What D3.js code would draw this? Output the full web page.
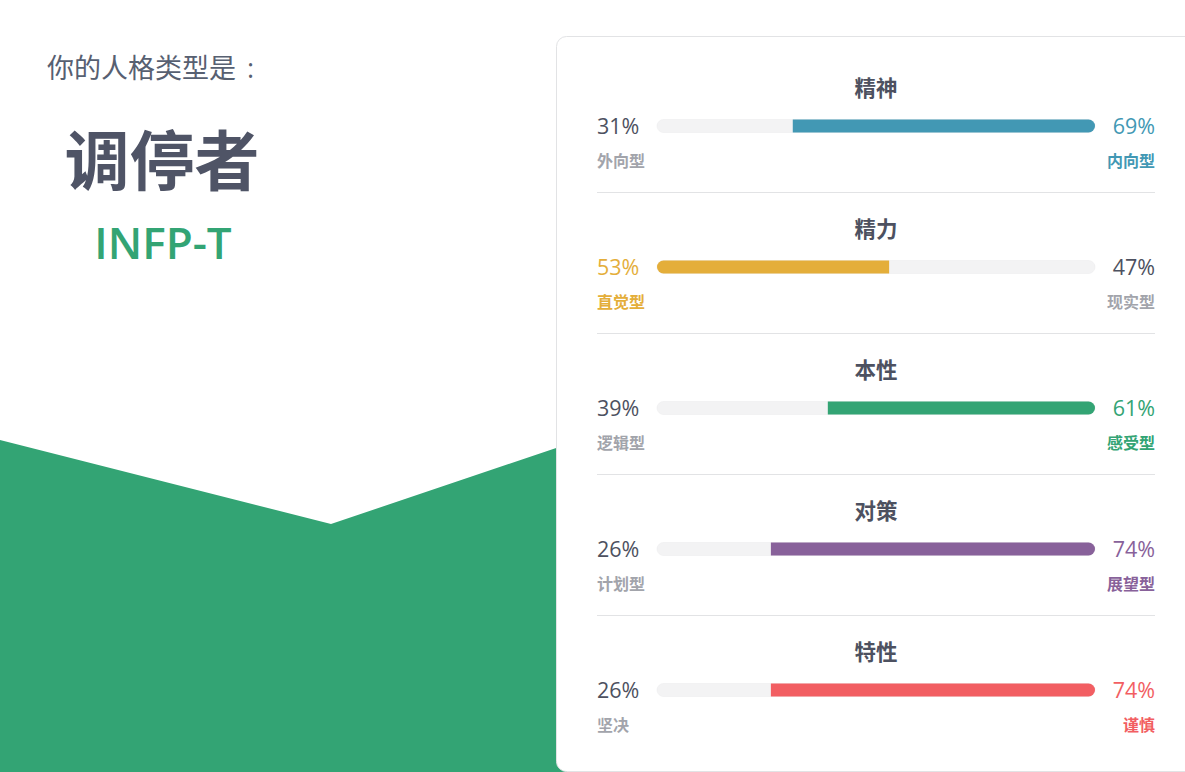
<!DOCTYPE html>
<html>
<head>
<meta charset="utf-8">
<script src="https://cdn.jsdelivr.net/npm/d3@7"></script>
<style>
  html, body { margin: 0; padding: 0; background: #fff; overflow: hidden; }
  text { font-family: "Open Sans", "Noto Sans CJK SC", sans-serif; }
</style>
</head>
<body>
<script>
// Personality data
const dimensions = ["精神", "精力", "本性", "对策", "特性"];
const leftTraits = ["外向型", "直觉型", "逻辑型", "计划型", "坚决"];
const rightTraits = ["内向型", "现实型", "感受型", "展望型", "谨慎"];
const leftPct = [31, 53, 39, 26, 26];
const rightPct = [69, 47, 61, 74, 74];
const traitColors = ["#4298b4", "#e4ae3a", "#33a474", "#88619a", "#f25e62"];

const W = 1185, H = 772;
const dark = "#4d5160", gray = "#a2a4ab";

const svg = d3.select("body").append("svg")
  .attr("width", W)
  .attr("height", H);

// green background shape (tucked under the card's left edge)
svg.append("path")
  .attr("d", "M0,440 L331,524 L568,444 L568," + H + " L0," + H + " Z")
  .attr("fill", "#33a474");

// left heading
const head = svg.append("text")
  .attr("x", 47).attr("y", 78)
  .style("font-size", "27px")
  .style("fill", "#576071")
  .text("你的人格类型是");
head.append("tspan")
  .attr("dx", 11)
  .text(":");

svg.append("text")
  .attr("x", 162).attr("y", 185)
  .attr("text-anchor", "middle")
  .style("font-size", "65px")
  .style("font-weight", "bold")
  .style("fill", "#4f5466")
  .text("调停者");

svg.append("text")
  .attr("x", 163).attr("y", 259)
  .attr("text-anchor", "middle")
  .style("font-size", "44px")
  .style("font-weight", "600")
  .style("fill", "#33a474")
  .text("INFP-T");

// card
svg.append("rect")
  .attr("x", 556.5).attr("y", 36.5)
  .attr("width", 700).attr("height", 735)
  .attr("rx", 10)
  .attr("fill", "#fff")
  .attr("stroke", "#e2e3e5");

// scales
const x = d3.scaleLinear().domain([0, 100]).range([657, 1095]);
const y = d3.scaleBand().domain(dimensions).range([51, 51 + 141 * dimensions.length]);
const barH = 13, r = barH / 2, cy = 75;

// filled bar: rounded on the outer end only
function fillPath(d) {
  const y0 = cy - r, y1 = cy + r;
  if (d.leftWins) {
    const xs = x(0), xe = x(d.lp);
    return `M${xe},${y0} H${xs + r} A${r},${r} 0 0 0 ${xs + r},${y1} H${xe} Z`;
  }
  const xs = x(d.lp), xe = x(100);
  return `M${xs},${y0} H${xe - r} A${r},${r} 0 0 1 ${xe - r},${y1} H${xs} Z`;
}

const rows = dimensions.map((d, i) => ({
  name: d,
  left: leftTraits[i],
  right: rightTraits[i],
  lp: leftPct[i],
  rp: rightPct[i],
  color: traitColors[i],
  leftWins: leftPct[i] > rightPct[i]
}));

const row = svg.selectAll("g.row")
  .data(rows)
  .join("g")
  .attr("class", "row")
  .attr("transform", d => `translate(0,${y(d.name)})`);

row.append("text")
  .attr("x", 876).attr("y", 45)
  .attr("text-anchor", "middle")
  .style("font-size", "21.5px")
  .style("font-weight", "bold")
  .style("fill", dark)
  .text(d => d.name);

// track
row.append("rect")
  .attr("x", x(0)).attr("y", cy - r)
  .attr("width", x(100) - x(0)).attr("height", barH)
  .attr("rx", r)
  .attr("fill", "#f3f3f4")
  .attr("stroke", "#ececee")
  .attr("stroke-width", 0.6);

row.append("path")
  .attr("d", fillPath)
  .attr("fill", d => d.color);

// percentages
row.append("text")
  .attr("x", 597).attr("y", 82.5)
  .style("font-size", "21.5px")
  .style("fill", d => d.leftWins ? d.color : dark)
  .text(d => d.lp + "%");

row.append("text")
  .attr("x", 1155).attr("y", 82.5)
  .attr("text-anchor", "end")
  .style("font-size", "21.5px")
  .style("fill", d => d.leftWins ? dark : d.color)
  .text(d => d.rp + "%");

// trait labels
row.append("text")
  .attr("x", 597).attr("y", 115.5)
  .style("font-size", "16px")
  .style("font-weight", "600")
  .style("fill", d => d.leftWins ? d.color : gray)
  .text(d => d.left);

row.append("text")
  .attr("x", 1155).attr("y", 115.5)
  .attr("text-anchor", "end")
  .style("font-size", "16px")
  .style("font-weight", "600")
  .style("fill", d => d.leftWins ? gray : d.color)
  .text(d => d.right);

// dividers
row.filter((d, i) => i < rows.length - 1)
  .append("line")
  .attr("x1", 597).attr("x2", 1155)
  .attr("y1", 141.5).attr("y2", 141.5)
  .attr("stroke", "#e2e3e5");
</script>
</body>
</html>
